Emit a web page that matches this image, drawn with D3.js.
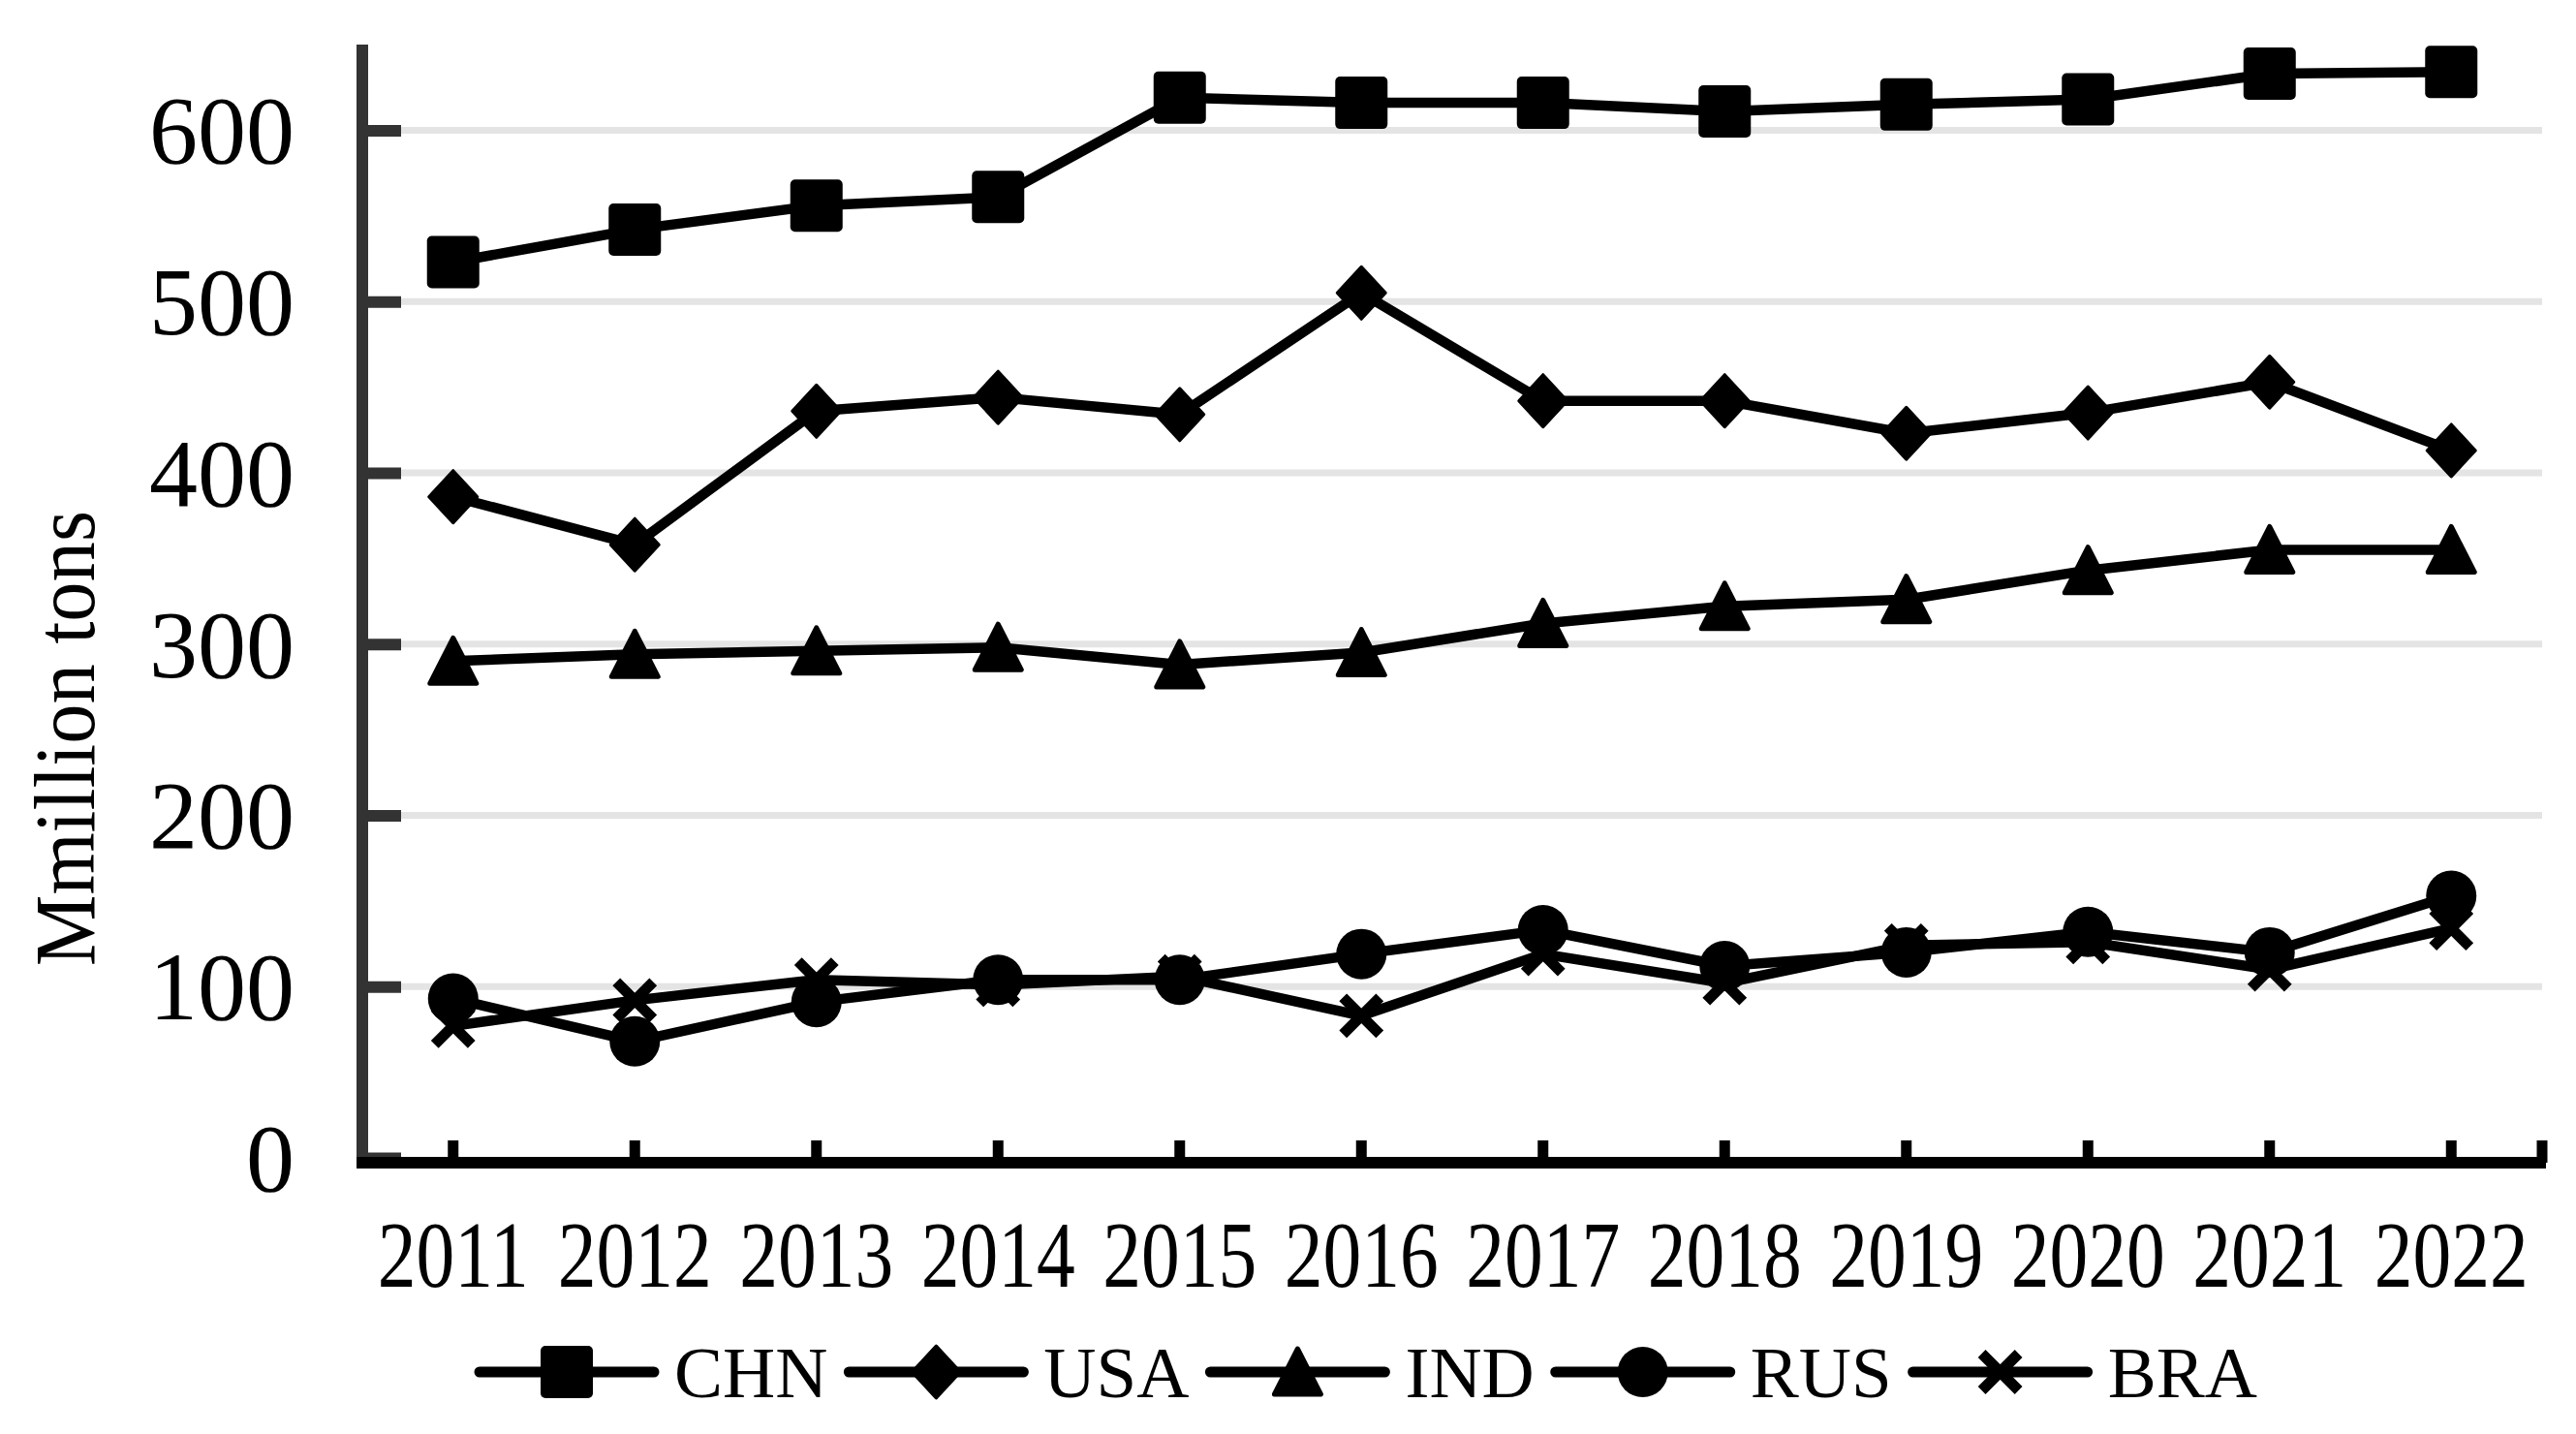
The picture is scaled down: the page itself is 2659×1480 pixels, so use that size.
<!DOCTYPE html>
<html>
<head>
<meta charset="utf-8">
<script src="https://cdn.jsdelivr.net/npm/d3@7"></script>
<style>
    body { margin: 0; background: #fff; }
    text { font-family: "Liberation Serif", "Times New Roman", serif; fill: #000; }
</style>
</head>
<body>
<svg id="chart" width="2659" height="1480"></svg>
<script>
/* data */
const years = ["2011", "2012", "2013", "2014", "2015", "2016", "2017", "2018", "2019", "2020", "2021", "2022"];
const chn = [523, 542, 556, 561, 619, 616, 616, 611, 615, 618, 633, 634];
const usa = [386, 358, 436, 444, 434, 505, 442, 442, 423, 435, 453, 413];
const ind = [290, 294, 296, 298, 288, 295, 312, 322, 326, 343, 355, 355];
const rus = [93, 68, 91, 104, 104, 119, 133, 112, 120, 132, 120, 153];
const bra = [77, 92, 104, 101, 106, 83, 119, 102, 124, 126, 110, 134];
const seriesNames = ["CHN", "USA", "IND", "RUS", "BRA"];
const seriesMarkers = ["square", "diamond", "triangle", "circle", "cross"];
const yTicks = [0, 100, 200, 300, 400, 500, 600];
const yTitle = "Mmillion tons";

const series = [chn, usa, ind, rus, bra].map((values, i) => ({
    name: seriesNames[i],
    marker: seriesMarkers[i],
    values: values.map((v, j) => ({ year: years[j], value: v }))
}));

/* layout */
const width = 2659;
const height = 1480;
const plot = { left: 374, right: 2624, top: 46, bottom: 1195 };

const svg = d3.select("#chart");
svg.append("rect").attr("width", width).attr("height", height).attr("fill", "#fff");

const xScale = d3.scalePoint()
    .domain(years)
    .range([plot.left, plot.right])
    .padding(0.5);

const yScale = d3.scaleLinear()
    .domain([0, 650])
    .range([plot.bottom, plot.top]);

/* gridlines */
svg.append("g")
    .selectAll("line")
    .data(yTicks.filter(d => d > 0))
    .join("line")
    .attr("x1", plot.left)
    .attr("x2", plot.right)
    .attr("y1", d => yScale(d))
    .attr("y2", d => yScale(d))
    .attr("stroke", "#e4e4e4")
    .attr("stroke-width", 7);

/* y axis */
const yAxis = d3.axisRight(yScale)
    .tickValues(yTicks)
    .tickSize(40)
    .tickFormat("");

const yAxisG = svg.append("g")
    .attr("transform", `translate(${plot.left},0)`)
    .call(yAxis);
yAxisG.select(".domain").remove();
yAxisG.selectAll(".tick line")
    .attr("stroke", "#333")
    .attr("stroke-width", 12);

svg.append("line")
    .attr("x1", plot.left).attr("x2", plot.left)
    .attr("y1", plot.top).attr("y2", plot.bottom + 11)
    .attr("stroke", "#333")
    .attr("stroke-width", 12);

svg.append("g")
    .selectAll("text")
    .data(yTicks)
    .join("text")
    .attr("x", 304)
    .attr("y", d => yScale(d))
    .attr("dy", "0.34em")
    .attr("text-anchor", "end")
    .attr("font-size", 100)
    .text(d => d);

/* x axis */
const axisY = plot.bottom + 5;
const xTickPos = years.map(d => xScale(d)).concat([plot.right]);

svg.append("g")
    .selectAll("line")
    .data(xTickPos)
    .join("line")
    .attr("x1", d => d)
    .attr("x2", d => d)
    .attr("y1", axisY)
    .attr("y2", axisY - 23)
    .attr("stroke", "#000")
    .attr("stroke-width", 11);

svg.append("line")
    .attr("x1", plot.left - 6).attr("x2", plot.right + 4)
    .attr("y1", axisY).attr("y2", axisY)
    .attr("stroke", "#000")
    .attr("stroke-width", 12);

svg.append("g")
    .selectAll("text")
    .data(years)
    .join("text")
    .attr("transform", d => `translate(${xScale(d)},1328) scale(0.82,1)`)
    .attr("text-anchor", "middle")
    .attr("font-size", 97)
    .text(d => d);

/* axis title */
svg.append("text")
    .attr("transform", "translate(97,762) rotate(-90)")
    .attr("text-anchor", "middle")
    .attr("font-size", 88)
    .attr("textLength", 470)
    .attr("lengthAdjust", "spacingAndGlyphs")
    .text(yTitle);

/* markers */
const drawMarker = (g, shape) => {
    if (shape === "square") {
        g.append("rect")
            .attr("x", -27).attr("y", -27)
            .attr("width", 54).attr("height", 54)
            .attr("rx", 5)
            .attr("fill", "#000");
    } else if (shape === "diamond") {
        g.append("path")
            .attr("d", "M0,-27L25,0L0,27L-25,0Z")
            .attr("fill", "#000")
            .attr("stroke", "#000")
            .attr("stroke-width", 3)
            .attr("stroke-linejoin", "round");
    } else if (shape === "triangle") {
        g.append("path")
            .attr("d", "M0,-24L24,23L-24,23Z")
            .attr("fill", "#000")
            .attr("stroke", "#000")
            .attr("stroke-width", 5)
            .attr("stroke-linejoin", "round");
    } else if (shape === "circle") {
        g.append("circle")
            .attr("r", 26)
            .attr("fill", "#000");
    } else {
        g.append("path")
            .attr("d", "M-19,-19L19,19M19,-19L-19,19")
            .attr("fill", "none")
            .attr("stroke", "#000")
            .attr("stroke-width", 11);
    }
};

/* lines */
const line = d3.line()
    .x(d => xScale(d.year))
    .y(d => yScale(d.value));

series.forEach(s => {
    const g = svg.append("g");
    g.append("path")
        .datum(s.values)
        .attr("d", line)
        .attr("fill", "none")
        .attr("stroke", "#000")
        .attr("stroke-width", 10.5)
        .attr("stroke-linejoin", "round");
    g.selectAll("g.pt")
        .data(s.values)
        .join("g")
        .attr("class", "pt")
        .attr("transform", d => `translate(${xScale(d.year)},${yScale(d.value)})`)
        .each(function () { drawMarker(d3.select(this), s.marker); });
});

/* legend */
const legend = svg.append("g");
const legendY = 1416;
let lx = 495;
series.forEach(s => {
    const item = legend.append("g").attr("transform", `translate(${lx},${legendY})`);
    item.append("line")
        .attr("x1", 0).attr("x2", 180)
        .attr("stroke", "#000")
        .attr("stroke-width", 11)
        .attr("stroke-linecap", "round");
    const m = item.append("g").attr("transform", "translate(90,0)");
    drawMarker(m, s.marker);
    const t = item.append("text")
        .attr("x", 201)
        .attr("dy", "0.34em")
        .attr("font-size", 75)
        .text(s.name);
    lx += 201 + t.node().getComputedTextLength() + 22;
});
</script>
</body>
</html>
